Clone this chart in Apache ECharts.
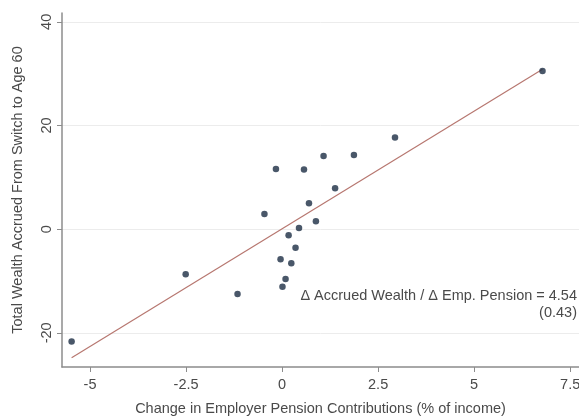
<!DOCTYPE html>
<html>
<head>
<meta charset="utf-8">
<script src="https://cdn.jsdelivr.net/npm/echarts@6/dist/echarts.min.js"></script>
<style>
  html, body { margin: 0; padding: 0; background: #ffffff; }
  #chart { width: 579px; height: 416px; }
</style>
</head>
<body>
<div id="chart"></div>
<script>
// Change in employer pension contributions (% of income) per group
const pensionChange = [
  -5.48, -2.51, -1.16, -0.46, -0.16, -0.04, 0.01, 0.09, 0.17, 0.24,
  0.35, 0.44, 0.57, 0.70, 0.88, 1.08, 1.38, 1.87, 2.94, 6.78
];
// Total wealth accrued from switch to age 60
const wealthAccrued = [
  -21.7, -8.7, -12.5, 2.9, 11.6, -5.8, -11.1, -9.6, -1.2, -6.6,
  -3.6, 0.2, 11.5, 5.0, 1.5, 14.1, 7.9, 14.3, 17.7, 30.5
];
// Fitted slope (with standard error) and intercept
const fitSlope = 4.54;
const fitSE = 0.43;
const fitIntercept = 0.05;

const xTicks = [-5, -2.5, 0, 2.5, 5, 7.5];
const yTicks = [-20, 0, 20, 40];

const xMin = Math.min(...pensionChange);
const xMax = Math.max(...pensionChange);
const fitLine = [
  [xMin, fitIntercept + fitSlope * xMin],
  [xMax, fitIntercept + fitSlope * xMax]
];
const points = pensionChange.map((x, i) => [x, wealthAccrued[i]]);

const textColor = '#4a4a4a';
const axisColor = '#8c8c8c';
const fontFamily = '"Liberation Sans", Arial, sans-serif';
const fontSize = 14.5;

const chart = echarts.init(document.getElementById('chart'));
chart.setOption({
  backgroundColor: '#ffffff',
  animation: false,
  grid: { left: 62, right: 0, top: 13, bottom: 49, outerBoundsMode: 'none', containLabel: false },
  xAxis: {
    type: 'value',
    min: -5.73,
    max: 7.73,
    name: 'Change in Employer Pension Contributions (% of income)',
    nameLocation: 'middle',
    nameGap: 34,
    nameTextStyle: { color: textColor, fontSize, fontFamily },
    axisLine: { show: true, onZero: false, lineStyle: { color: axisColor, width: 1.5 } },
    axisTick: { show: true, length: 5, customValues: xTicks, lineStyle: { color: axisColor } },
    axisLabel: {
      customValues: xTicks, color: textColor, fontSize, fontFamily, margin: 10,
      formatter: v => String(v)
    },
    splitLine: { show: false }
  },
  yAxis: {
    type: 'value',
    min: -26.6,
    max: 41.7,
    name: 'Total Wealth Accrued From Switch to Age 60',
    nameLocation: 'middle',
    nameGap: 37,
    nameRotate: 90,
    nameTextStyle: { color: textColor, fontSize, fontFamily },
    axisLine: { show: true, onZero: false, lineStyle: { color: axisColor, width: 1.5 } },
    axisTick: { show: true, length: 5, customValues: yTicks, lineStyle: { color: axisColor } },
    axisLabel: {
      customValues: yTicks, color: textColor, fontSize, fontFamily, rotate: 90, margin: 8,
      formatter: v => String(v)
    },
    splitLine: { show: false }
  },
  series: [
    {
      // horizontal gridlines at the labelled y ticks
      type: 'line',
      data: [],
      z: 0,
      silent: true,
      markLine: {
        z: 0,
        silent: true,
        symbol: 'none',
        label: { show: false },
        lineStyle: { color: '#ececec', width: 1, type: 'solid' },
        data: yTicks.map(v => ({ yAxis: v }))
      }
    },
    {
      type: 'line',
      data: fitLine,
      symbol: 'none',
      z: 2,
      lineStyle: { color: '#b77770', width: 1.2 }
    },
    {
      type: 'scatter',
      data: points,
      symbolSize: 6.5,
      z: 3,
      itemStyle: { color: '#1c2d44' }
    }
  ],
  graphic: [
    {
      type: 'text',
      x: 577,
      y: 287,
      style: {
        text: 'Δ Accrued Wealth / Δ Emp. Pension = ' + fitSlope.toFixed(2) + '\n(' + fitSE.toFixed(2) + ')',
        align: 'right',
        verticalAlign: 'top',
        fill: textColor,
        font: fontSize + 'px "Liberation Sans", Arial, sans-serif',
        lineHeight: 17
      }
    }
  ]
});
</script>
</body>
</html>
